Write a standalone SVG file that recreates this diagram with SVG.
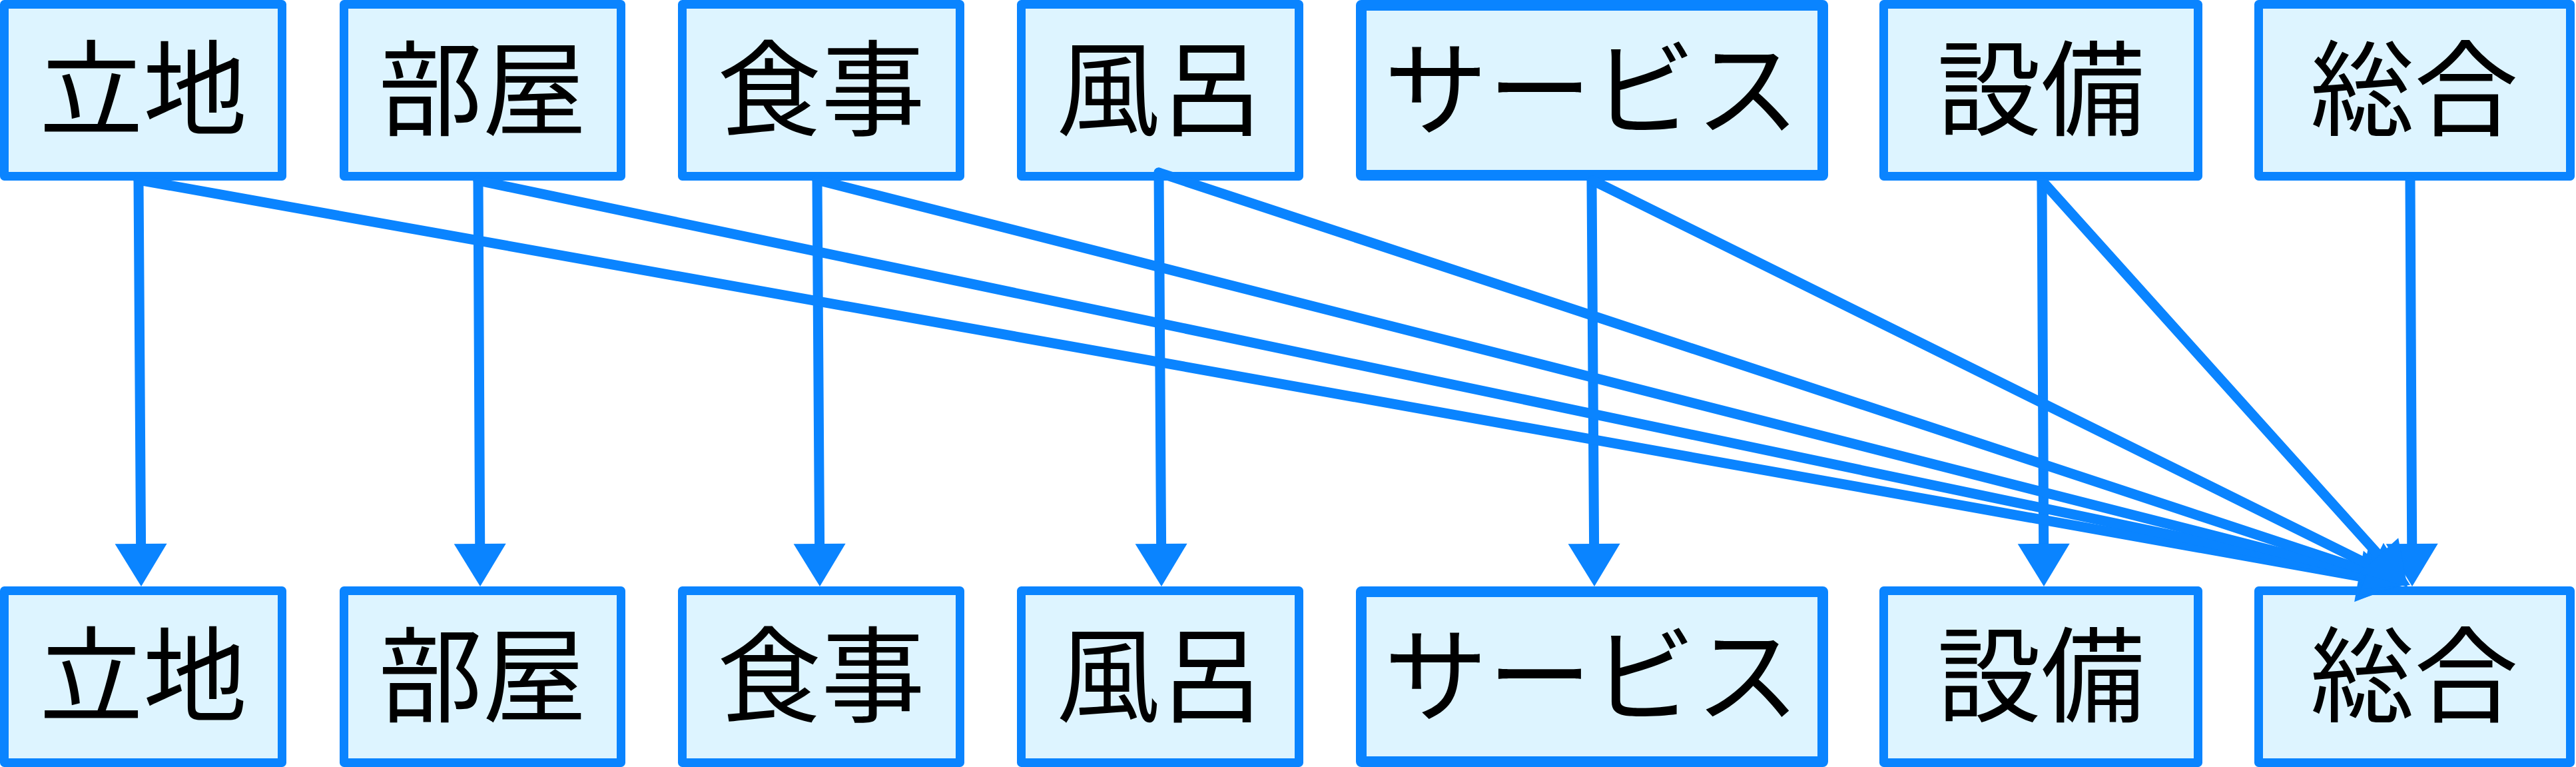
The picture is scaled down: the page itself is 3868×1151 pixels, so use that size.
<svg xmlns="http://www.w3.org/2000/svg" width="3868" height="1151" viewBox="0 0 3868 1151">
<style>
.box{fill:#DDF4FF;stroke:#0A84FF;stroke-width:13;stroke-linejoin:round}
.thick{stroke-width:16}
.lbl{font-family:"Noto Sans CJK JP","Noto Sans CJK SC",sans-serif;font-size:156px;fill:#000;text-anchor:middle}
.edge{fill:none;stroke:#0A84FF;stroke-width:15;stroke-linecap:round;marker-end:url(#arr)}
</style>
<defs>
<marker id="arr" markerUnits="userSpaceOnUse" markerWidth="64" markerHeight="78" refX="0" refY="39" orient="auto" overflow="visible">
<path d="M0,0 L64,39 L0,78 Z" fill="#0A84FF"/>
</marker>
</defs>
<g id="top-ritchi"><rect class="box" x="6.5" y="6.5" width="417" height="258"/><text class="lbl" x="215" y="191">立地</text></g>
<g id="top-heya"><rect class="box" x="516.5" y="6.5" width="416" height="258"/><text class="lbl" x="724.5" y="191">部屋</text></g>
<g id="top-shokuji"><rect class="box" x="1024.5" y="6.5" width="417" height="258"/><text class="lbl" x="1233" y="191">食事</text></g>
<g id="top-furo"><rect class="box" x="1533.5" y="6.5" width="417" height="258"/><text class="lbl" x="1742" y="191">風呂</text></g>
<g id="top-service"><rect class="box thick" x="2044" y="8" width="693" height="255"/><text class="lbl" x="2390" y="191">サービス</text></g>
<g id="top-setsubi"><rect class="box" x="2828.5" y="6.5" width="472" height="258"/><text class="lbl" x="3064.5" y="191">設備</text></g>
<g id="top-sougou"><rect class="box" x="3391.5" y="6.5" width="468" height="258"/><text class="lbl" x="3625" y="191">総合</text></g>

<g id="bot-ritchi"><rect class="box" x="6.5" y="886.5" width="417" height="258"/><text class="lbl" x="215" y="1071">立地</text></g>
<g id="bot-heya"><rect class="box" x="516.5" y="886.5" width="416" height="258"/><text class="lbl" x="724.5" y="1071">部屋</text></g>
<g id="bot-shokuji"><rect class="box" x="1024.5" y="886.5" width="417" height="258"/><text class="lbl" x="1233" y="1071">食事</text></g>
<g id="bot-furo"><rect class="box" x="1533.5" y="886.5" width="417" height="258"/><text class="lbl" x="1742" y="1071">風呂</text></g>
<g id="bot-service"><rect class="box thick" x="2044" y="888" width="693" height="255"/><text class="lbl" x="2390" y="1071">サービス</text></g>
<g id="bot-setsubi"><rect class="box" x="2828.5" y="886.5" width="472" height="258"/><text class="lbl" x="3064.5" y="1071">設備</text></g>
<g id="bot-sougou"><rect class="box" x="3391.5" y="886.5" width="468" height="258"/><text class="lbl" x="3625" y="1071">総合</text></g>

<g id="connectors">
<line class="edge" x1="208" y1="270" x2="211.6" y2="816"/>
<line class="edge" x1="718" y1="271" x2="720.7" y2="816"/>
<line class="edge" x1="1227" y1="270" x2="1230.6" y2="816"/>
<line class="edge" x1="1740" y1="259" x2="1743.6" y2="816"/>
<line class="edge" x1="2390" y1="271" x2="2393.6" y2="816"/>
<line class="edge" x1="3066" y1="271" x2="3068.7" y2="816"/>
<line class="edge" x1="3619" y1="271" x2="3621.7" y2="816"/>
<line class="edge" x1="208" y1="270" x2="3542" y2="864.8"/>
<line class="edge" x1="718" y1="271" x2="3547.4" y2="862.9"/>
<line class="edge" x1="1227" y1="270" x2="3550" y2="861.2"/>
<line class="edge" x1="1740" y1="259" x2="3554.2" y2="857"/>
<line class="edge" x1="2392" y1="271" x2="3561.6" y2="849.6"/>
<line class="edge" x1="3066" y1="271" x2="3572.2" y2="833.4"/>
</g>
</svg>
